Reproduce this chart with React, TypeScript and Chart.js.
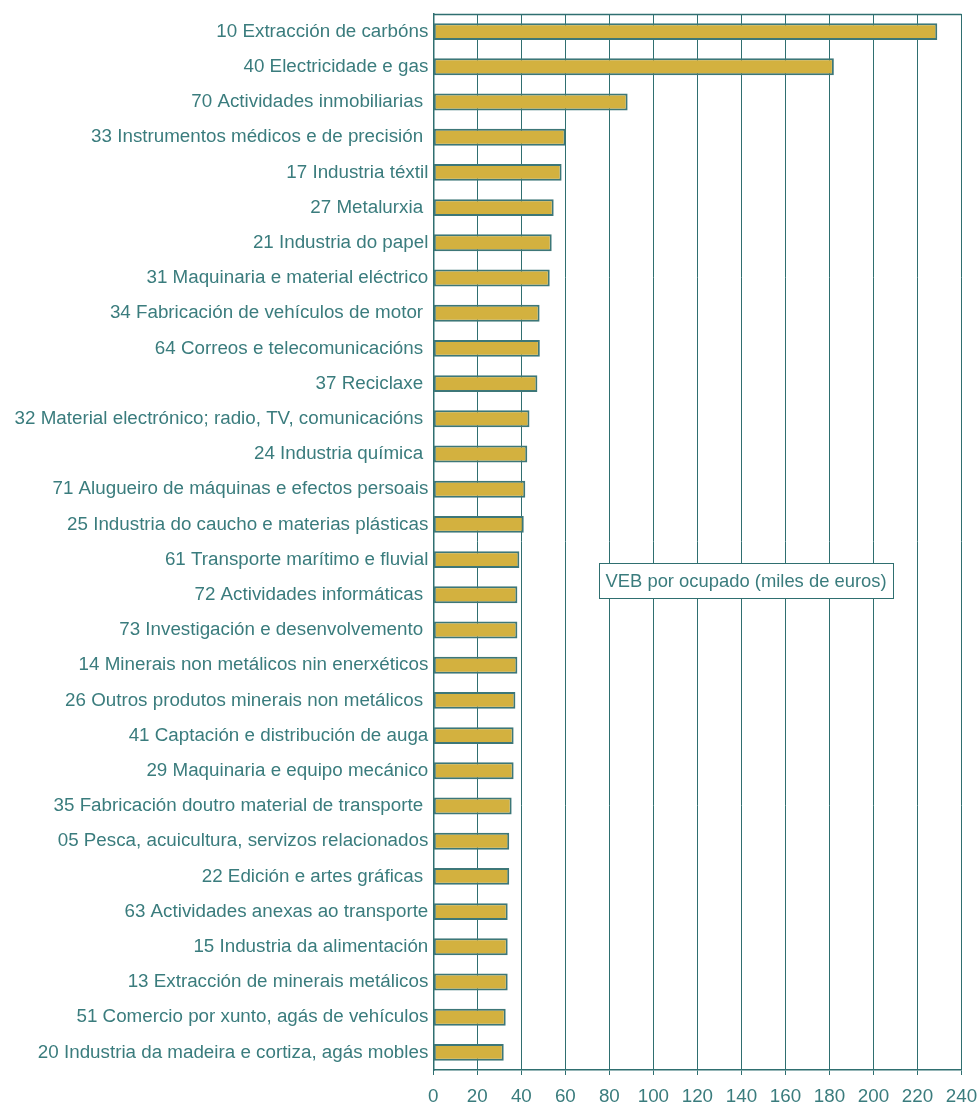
import React, { useEffect, useRef } from "react";
import { Chart, registerables } from "chart.js";

Chart.register(...registerables);

const categories: string[] = [
  "10 Extracción de carbóns",
  "40 Electricidade e gas",
  "70 Actividades inmobiliarias ",
  "33 Instrumentos médicos e de precisión ",
  "17 Industria téxtil",
  "27 Metalurxia ",
  "21 Industria do papel",
  "31 Maquinaria e material eléctrico",
  "34 Fabricación de vehículos de motor ",
  "64 Correos e telecomunicacións ",
  "37 Reciclaxe ",
  "32 Material electrónico; radio, TV, comunicacións ",
  "24 Industria química ",
  "71 Alugueiro de máquinas e efectos persoais",
  "25 Industria do caucho e materias plásticas",
  "61 Transporte marítimo e fluvial",
  "72 Actividades informáticas ",
  "73 Investigación e desenvolvemento ",
  "14 Minerais non metálicos nin enerxéticos",
  "26 Outros produtos minerais non metálicos ",
  "41 Captación e distribución de auga",
  "29 Maquinaria e equipo mecánico",
  "35 Fabricación doutro material de transporte ",
  "05 Pesca, acuicultura, servizos relacionados",
  "22 Edición e artes gráficas ",
  "63 Actividades anexas ao transporte",
  "15 Industria da alimentación",
  "13 Extracción de minerais metálicos",
  "51 Comercio por xunto, agás de vehículos",
  "20 Industria da madeira e cortiza, agás mobles",
];

const vebPorOcupado: number[] = [
  229, 182, 88.3, 60.1, 58.3, 54.7, 53.8, 52.9, 48.3, 48.4,
  47.3, 43.7, 42.7, 41.8, 41.1, 39.1, 38.2, 38.2, 38.2, 37.3,
  36.5, 36.5, 35.6, 34.5, 34.5, 33.8, 33.8, 33.8, 32.9, 32.0,
];

const seriesLabel = "VEB por ocupado (miles de euros)";
const xMin = 0;
const xMax = 240;
const xStep = 20;

const TEAL_TEXT = "#3a7c7d";
const TEAL_LINE = "#2f6f70";
const BAR_FILL = "#d3b13f";
const BAR_BORDER = "#3d7778";
const FONT_FAMILY = "'Liberation Sans', Arial, Helvetica, sans-serif";
const FONT_SIZE = 18.8;
const NOTE_FONT_SIZE = 18.4;

export default function App() {
  const canvasRef = useRef<HTMLCanvasElement | null>(null);

  useEffect(() => {
    document.body.style.margin = "0";
    const canvas = canvasRef.current;
    if (!canvas) return;

    const framePlugin = {
      id: "frameAndNote",
      afterDatasetsDraw(chart: any) {
        const { ctx, chartArea } = chart;
        ctx.save();
        ctx.strokeStyle = TEAL_LINE;
        ctx.lineWidth = 1.5;
        ctx.beginPath();
        ctx.moveTo(chartArea.left, Math.round(chartArea.top) + 0.5);
        ctx.lineTo(chartArea.right, Math.round(chartArea.top) + 0.5);
        ctx.stroke();

        const bx = 599.5;
        const by = 563.5;
        const bw = 294;
        const bh = 35;
        ctx.fillStyle = "#ffffff";
        ctx.fillRect(bx, by, bw, bh);
        ctx.strokeStyle = TEAL_LINE;
        ctx.lineWidth = 1;
        ctx.strokeRect(bx, by, bw, bh);
        ctx.fillStyle = TEAL_TEXT;
        ctx.font = `${NOTE_FONT_SIZE}px ${FONT_FAMILY}`;
        ctx.textAlign = "left";
        ctx.textBaseline = "middle";
        ctx.fillText(seriesLabel, bx + 6, by + bh / 2 + 1);
        ctx.restore();
      },
    };

    const chart = new Chart(canvas, {
      type: "bar",
      data: {
        labels: categories,
        datasets: [
          {
            label: seriesLabel,
            data: vebPorOcupado,
            backgroundColor: BAR_FILL,
            borderColor: BAR_BORDER,
            borderWidth: 2,
            borderSkipped: false,
            barPercentage: 0.48,
            categoryPercentage: 1,
          },
        ],
      },
      options: {
        indexAxis: "y",
        animation: false,
        responsive: false,
        maintainAspectRatio: false,
        layout: { padding: { top: 14, right: 18.5, left: 0, bottom: 0 } },
        plugins: {
          legend: { display: false },
          tooltip: { enabled: false },
        },
        scales: {
          x: {
            type: "linear",
            min: xMin,
            max: xMax,
            ticks: {
              stepSize: xStep,
              color: TEAL_TEXT,
              font: { family: FONT_FAMILY, size: FONT_SIZE },
              padding: 11,
              maxRotation: 0,
            },
            grid: {
              color: TEAL_LINE,
              lineWidth: 1,
              drawTicks: true,
              tickLength: 5,
              tickColor: TEAL_LINE,
            },
            border: { display: true, color: TEAL_LINE, width: 1.5 },
            afterFit(scale: any) {
              scale.height = 36;
              scale.paddingLeft = 0;
              scale.paddingRight = 0;
            },
          },
          y: {
            type: "category",
            ticks: {
              color: TEAL_TEXT,
              font: { family: FONT_FAMILY, size: FONT_SIZE },
              padding: 5,
              autoSkip: false,
            },
            grid: { display: false, drawTicks: false },
            border: { display: true, color: TEAL_LINE, width: 1.5 },
            afterFit(scale: any) {
              scale.width = 433.3;
              scale.paddingTop = 0;
              scale.paddingBottom = 0;
            },
          },
        },
      },
      plugins: [framePlugin],
    });

    return () => {
      chart.destroy();
    };
  }, []);

  return (
    <div style={{ width: 980, height: 1106, background: "#ffffff" }}>
      <canvas ref={canvasRef} width={980} height={1106} style={{ display: "block" }} />
    </div>
  );
}
